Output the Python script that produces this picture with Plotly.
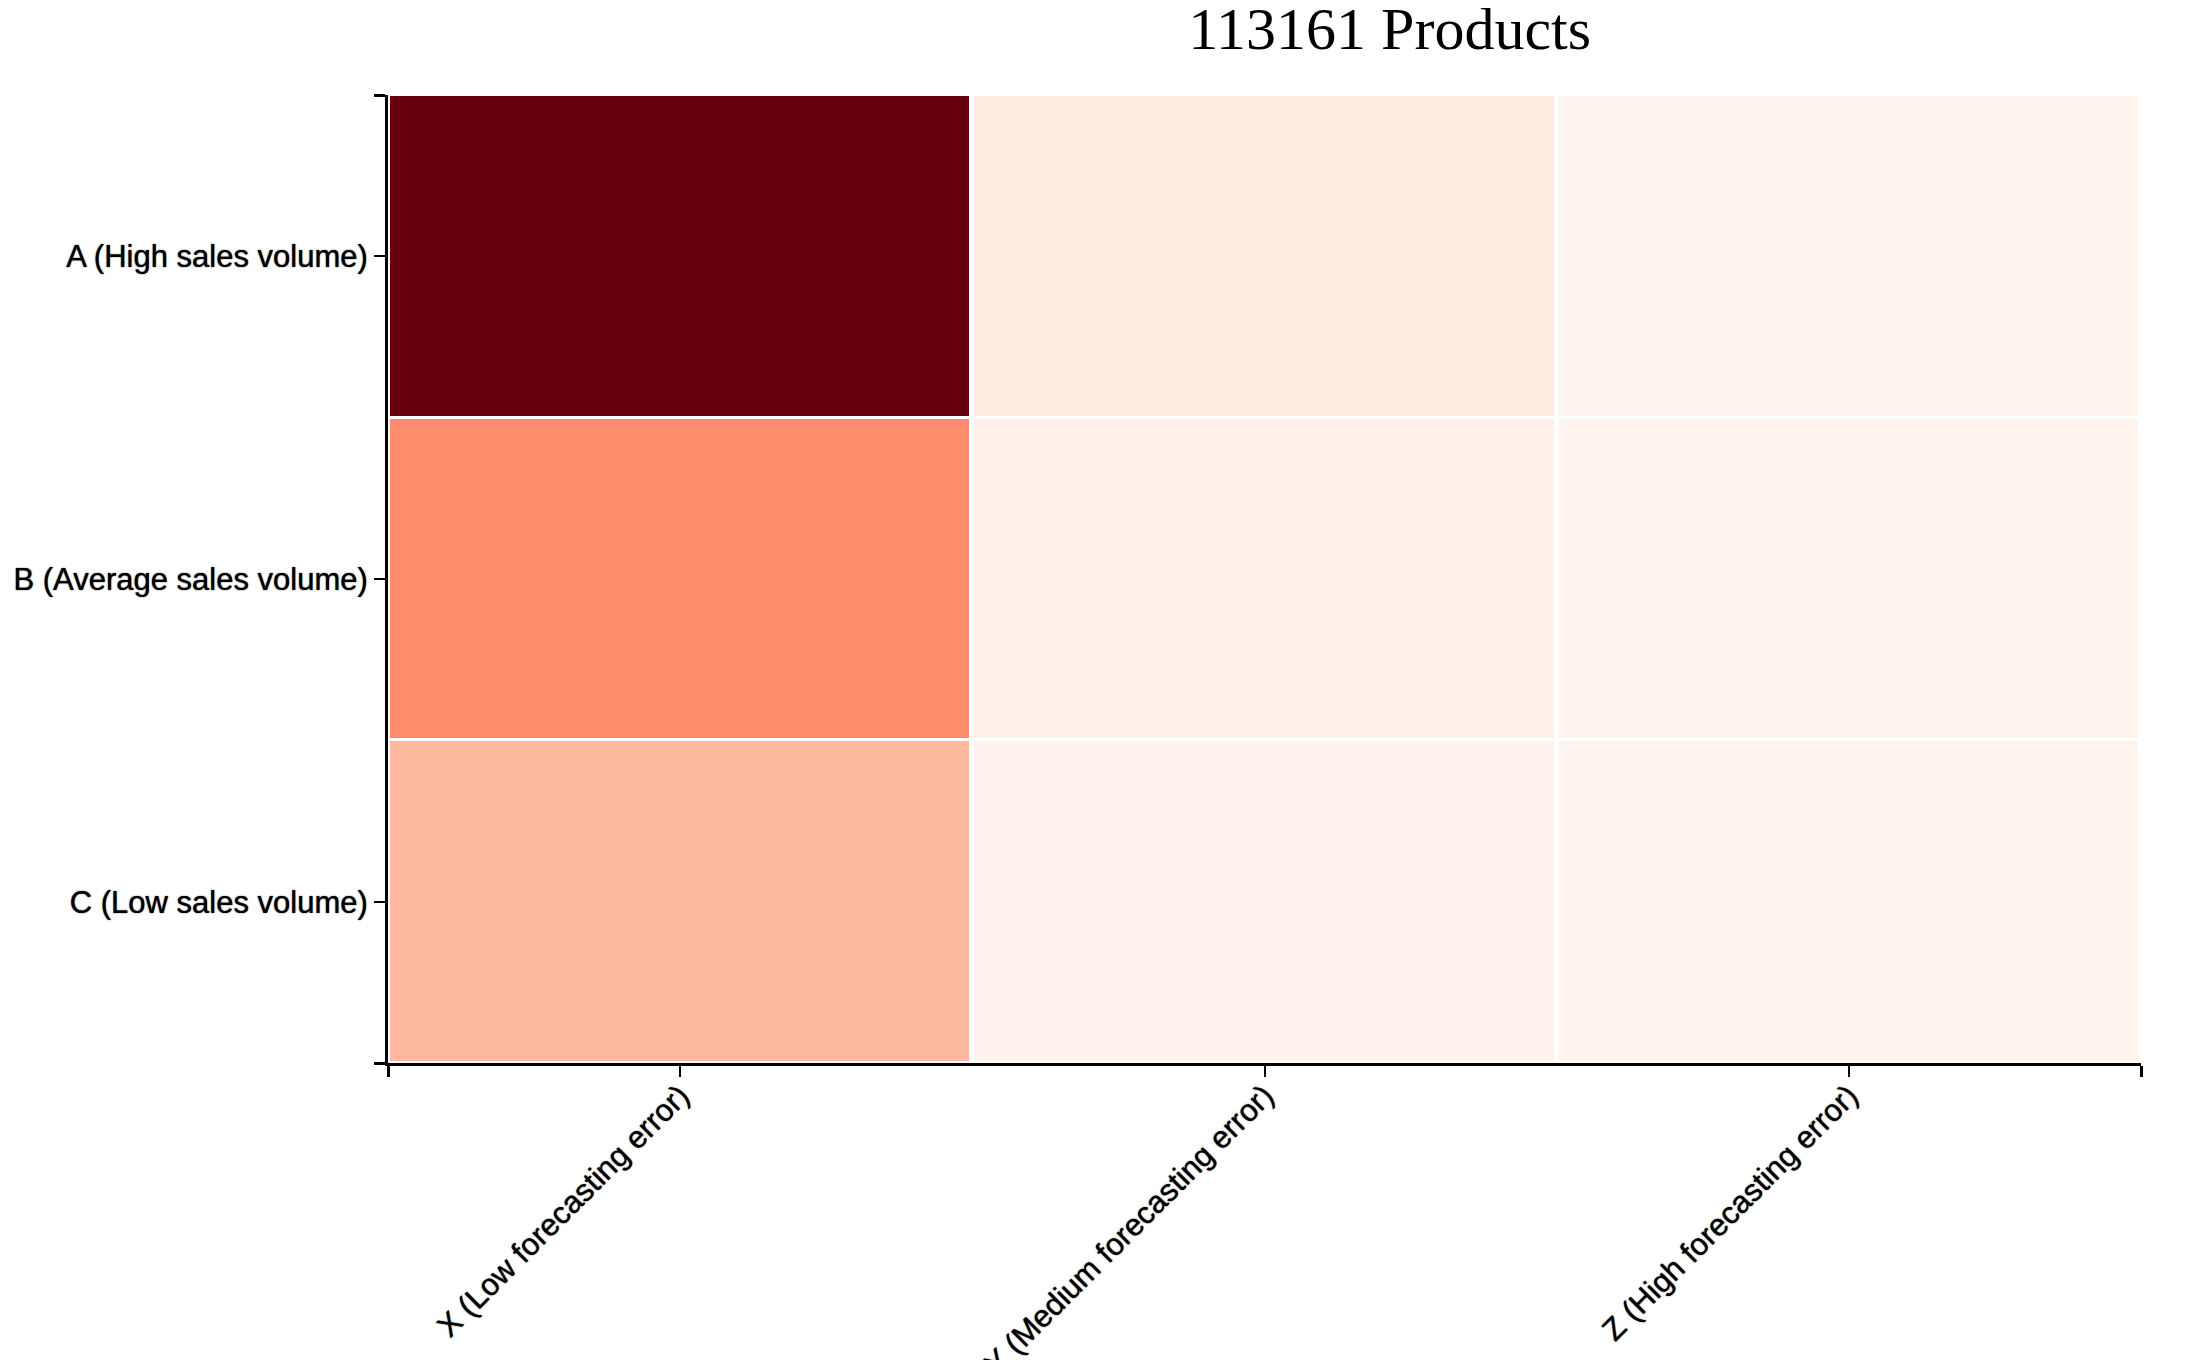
import plotly.graph_objects as go
import plotly.express as px

title_text = "113161 Products"
x_labels = ["X (Low forecasting error)", "Y (Medium forecasting error)", "Z (High forecasting error)"]
y_labels = ["A (High sales volume)", "B (Average sales volume)", "C (Low sales volume)"]

# product counts per cell (rows A, B, C ; columns X, Y, Z) - estimated from colour
row_A = [63400, 3800, 760]
row_B = [25000, 1900, 640]
row_C = [16200, 950, 630]

z = [row_A, row_B, row_C]
x_idx = list(range(len(x_labels)))
y_idx = list(range(len(y_labels)))

fig = go.Figure(go.Heatmap(
    z=z, x=x_idx, y=y_idx,
    colorscale=px.colors.sequential.Reds,
    zmin=0, zmax=max(row_A),
    showscale=False, xgap=5, ygap=3,
))

tickfont = dict(family="Liberation Sans, Arial, sans-serif", size=31, color="black",
                shadow="0px 0px 1.2px #000")

fig.update_layout(
    width=2188, height=1360,
    margin=dict(l=380, r=55, t=87, b=305),
    paper_bgcolor="white", plot_bgcolor="white",
    title=dict(text=title_text, x=0.6315, xanchor="center", y=0.985, yanchor="middle",
               font=dict(family="Liberation Serif, Times New Roman, serif", size=60, color="black")),
)
fig.update_xaxes(
    range=[-0.5, 2.5], tickmode="array", tickvals=x_idx, ticktext=x_labels,
    tickangle=-45, tickfont=tickfont, showgrid=False, zeroline=False, automargin=False,
    showline=True, linecolor="black", linewidth=3, ticklabelstandoff=-12,
    ticks="outside", ticklen=11, tickwidth=1.5, tickcolor="black",
    minor=dict(tickmode="array", tickvals=[-0.5, 2.5], ticks="outside", ticklen=11,
               tickwidth=3, tickcolor="black", showgrid=False),
)
fig.update_yaxes(
    range=[2.5, -0.5], tickmode="array", tickvals=y_idx, ticktext=y_labels,
    tickfont=tickfont, showgrid=False, zeroline=False, automargin=False,
    showline=True, linecolor="black", linewidth=3,
    ticks="outside", ticklen=11, tickwidth=1.5, tickcolor="black",
    minor=dict(tickmode="array", tickvals=[-0.5, 2.5], ticks="outside", ticklen=11,
               tickwidth=3, tickcolor="black", showgrid=False),
)

fig.write_html("out.html")
